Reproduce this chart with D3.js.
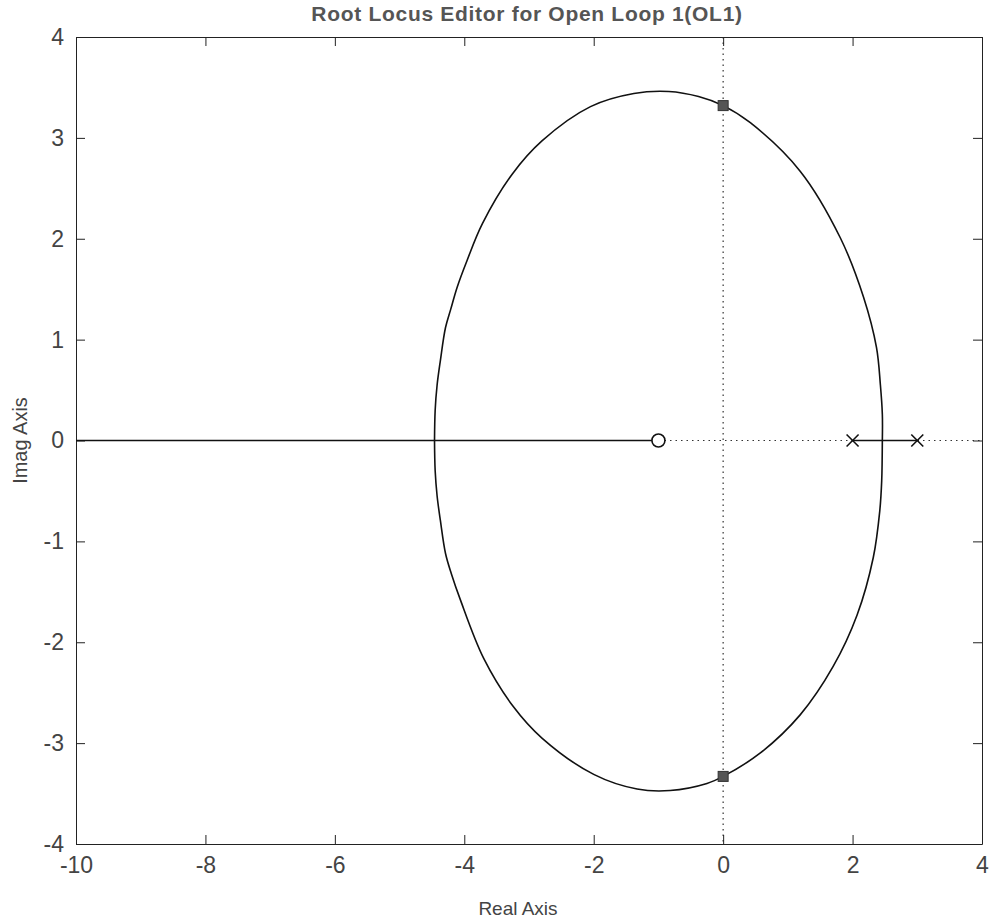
<!DOCTYPE html>
<html>
<head>
<meta charset="utf-8">
<script src="https://cdn.jsdelivr.net/npm/d3@7"></script>
<style>
  html, body { margin: 0; padding: 0; background: #fff; }
  svg { display: block; }
  text { font-family: "Liberation Sans", Arial, Helvetica, sans-serif; }
</style>
</head>
<body>
<svg id="chart" width="989" height="922"></svg>
<script>
// ---------- data ----------
const title = "Root Locus Editor for Open Loop 1(OL1)";
const xLabel = "Real Axis";
const yLabel = "Imag Axis";
const xDomain = [-10, 4];
const yDomain = [-4, 4];
const xTicks = [-10, -8, -6, -4, -2, 0, 2, 4];
const yTicks = [-4, -3, -2, -1, 0, 1, 2, 3, 4];

// open-loop zero and poles
const zeros = [[-1, 0]];
const poles = [[2, 0], [3, 0]];
// closed-loop roots at the imaginary-axis crossing
const crossings = [[0, 3.32], [0, -3.33]];

// locus branches (real, imag)
const upperBranch = [
  [-4.46, 0], [-4.45, 0.30], [-4.42, 0.55], [-4.37, 0.79], [-4.29, 1.12],
  [-4.21, 1.30], [-4.11, 1.52], [-3.96, 1.78], [-3.72, 2.15], [-3.26, 2.64],
  [-2.80, 2.97], [-2.05, 3.31], [-1.38, 3.44], [-0.84, 3.46], [-0.38, 3.41],
  [0.0, 3.32], [0.42, 3.15], [1.19, 2.67], [1.81, 2.01], [2.17, 1.42],
  [2.37, 0.92], [2.43, 0.55], [2.46, 0.26], [2.46, 0]
];
const lowerBranch = [
  [-4.46, 0], [-4.45, -0.30], [-4.42, -0.55], [-4.37, -0.79], [-4.29, -1.12],
  [-4.20, -1.32], [-4.06, -1.58], [-3.70, -2.16], [-3.24, -2.64], [-2.80, -2.95],
  [-2.00, -3.31], [-1.33, -3.455], [-0.82, -3.47], [-0.25, -3.40], [0.0, -3.33],
  [0.57, -3.10], [1.19, -2.72], [1.70, -2.24], [2.07, -1.73], [2.32, -1.16],
  [2.42, -0.70], [2.45, -0.40], [2.46, 0]
];
const realAxisBranches = [
  [[-10, 0], [-1, 0]],
  [[2, 0], [3, 0]]
];

// ---------- layout ----------
const svg = d3.select("#chart");
const mLeft = 76, mRight = 982, mTop = 37, mBottom = 844;

const x = d3.scaleLinear().domain(xDomain).range([mLeft, mRight]);
const y = d3.scaleLinear().domain(yDomain).range([mBottom, mTop]);

const ink = "#222";
const textCol = "#444";

// dotted zero lines
svg.append("line")
  .attr("x1", x(xDomain[0])).attr("x2", x(xDomain[1]))
  .attr("y1", y(0)).attr("y2", y(0))
  .attr("stroke", "#333").attr("stroke-width", 1.2).attr("stroke-dasharray", "1.5,4");
svg.append("line")
  .attr("x1", x(0)).attr("x2", x(0))
  .attr("y1", y(yDomain[1])).attr("y2", y(yDomain[0]))
  .attr("stroke", "#333").attr("stroke-width", 1.2).attr("stroke-dasharray", "1.5,4");

// axes
const fmt = d => String(d);
const tick = 9;
svg.append("g")
  .attr("transform", `translate(0,${mBottom})`)
  .call(d3.axisBottom(x).tickValues(xTicks).tickFormat(fmt).tickSizeInner(-tick).tickSizeOuter(0).tickPadding(13))
  .call(g => g.select(".domain").attr("stroke", ink))
  .call(g => g.selectAll(".tick line").attr("stroke", ink))
  .call(g => g.selectAll("text").attr("font-size", 23).attr("fill", textCol)
    .attr("font-family", "Liberation Sans, Arial, sans-serif"));
svg.append("g")
  .attr("transform", `translate(0,${mTop})`)
  .call(d3.axisTop(x).tickValues(xTicks).tickFormat("").tickSizeInner(-tick).tickSizeOuter(0))
  .call(g => g.select(".domain").attr("stroke", ink))
  .call(g => g.selectAll(".tick line").attr("stroke", ink));
svg.append("g")
  .attr("transform", `translate(${mLeft},0)`)
  .call(d3.axisLeft(y).tickValues(yTicks).tickFormat(fmt).tickSizeInner(-tick).tickSizeOuter(0).tickPadding(12))
  .call(g => g.select(".domain").attr("stroke", ink))
  .call(g => g.selectAll(".tick line").attr("stroke", ink))
  .call(g => g.selectAll("text").attr("font-size", 23).attr("fill", textCol)
    .attr("font-family", "Liberation Sans, Arial, sans-serif"));
svg.append("g")
  .attr("transform", `translate(${mRight},0)`)
  .call(d3.axisRight(y).tickValues(yTicks).tickFormat("").tickSizeInner(-tick).tickSizeOuter(0))
  .call(g => g.select(".domain").attr("stroke", ink))
  .call(g => g.selectAll(".tick line").attr("stroke", ink));

// locus
const line = d3.line().x(d => x(d[0])).y(d => y(d[1])).curve(d3.curveCatmullRom.alpha(0.5));
const straight = d3.line().x(d => x(d[0])).y(d => y(d[1]));
[upperBranch, lowerBranch].forEach(b => {
  svg.append("path").attr("d", line(b)).attr("fill", "none")
    .attr("stroke", "#111").attr("stroke-width", 1.6);
});
realAxisBranches.forEach(b => {
  svg.append("path").attr("d", straight(b)).attr("fill", "none")
    .attr("stroke", "#111").attr("stroke-width", 1.6);
});

// zero marker
svg.selectAll(".zero").data(zeros).enter().append("circle")
  .attr("cx", d => x(d[0])).attr("cy", d => y(d[1])).attr("r", 6.5)
  .attr("fill", "#fff").attr("stroke", "#111").attr("stroke-width", 1.6);

// pole markers
const s = 6;
svg.selectAll(".pole").data(poles).enter().append("path")
  .attr("d", d => {
    const cx = x(d[0]), cy = y(d[1]);
    return `M${cx - s},${cy - s}L${cx + s},${cy + s}M${cx - s},${cy + s}L${cx + s},${cy - s}`;
  })
  .attr("stroke", "#111").attr("stroke-width", 1.6).attr("fill", "none");

// closed-loop root squares
svg.selectAll(".cl").data(crossings).enter().append("rect")
  .attr("x", d => x(d[0]) - 5).attr("y", d => y(d[1]) - 5)
  .attr("width", 10).attr("height", 10)
  .attr("fill", "#555").attr("stroke", "#333").attr("stroke-width", 1);

// titles
svg.append("text").attr("x", 527).attr("y", 21)
  .attr("text-anchor", "middle").attr("font-size", 21).attr("font-weight", "bold")
  .attr("letter-spacing", 0.7)
  .attr("fill", "#555").text(title);
svg.append("text").attr("x", 518).attr("y", 915)
  .attr("text-anchor", "middle").attr("font-size", 19).attr("fill", textCol).text(xLabel);
svg.append("text").attr("transform", `translate(27,${(mTop + mBottom) / 2}) rotate(-90)`)
  .attr("text-anchor", "middle").attr("font-size", 20).attr("fill", textCol).text(yLabel);
</script>
</body>
</html>
